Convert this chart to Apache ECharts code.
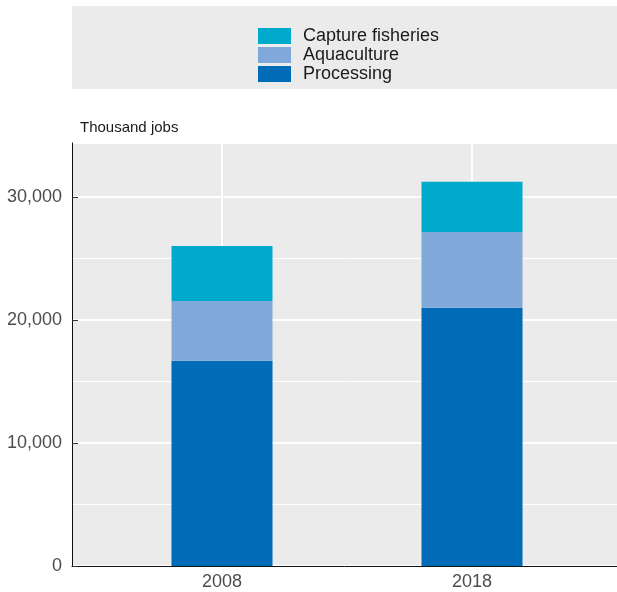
<!DOCTYPE html>
<html>
<head>
<meta charset="utf-8">
<script src="https://cdn.jsdelivr.net/npm/echarts@6/dist/echarts.min.js"></script>
<style>
  html, body { margin: 0; padding: 0; background: #fff; }
  #chart { width: 617px; height: 592px; }
</style>
</head>
<body>
<div id="chart"></div>
<script>
// 数据
const years = ['2008', '2018'];
const processing = [16700, 21000];
const aquaculture = [4850, 6170];
const capture = [4480, 4080];
const yMax = 34400;

const font = '"Liberation Sans", Arial, sans-serif';
const chart = echarts.init(document.getElementById('chart'));

const barBase = {
    type: 'bar',
    stack: 'jobs',
    xAxisIndex: 1,
    yAxisIndex: 1,
    barWidth: 101,
    clip: false
};

const option = {
    animation: false,
    textStyle: { fontFamily: font },
    // 图例背景框
    graphic: [{
        type: 'rect',
        left: 72, top: 6,
        shape: { width: 545, height: 83 },
        style: { fill: '#ebebeb' },
        z: -1
    }],
    legend: {
        orient: 'vertical',
        left: 258, top: 27,
        padding: 0,
        itemWidth: 33, itemHeight: 16, itemGap: 1,
        icon: 'rect',
        data: ['Capture fisheries', 'Aquaculture', 'Processing'],
        textStyle: { fontSize: 18, color: '#1a1a1a', lineHeight: 16, padding: [0, 0, 0, 7] }
    },
    grid: [
        // 整个绘图区（背景、横向网格线）
        { left: 72, right: 0, top: 143, bottom: 26, show: true, backgroundColor: '#ebebeb', borderWidth: 0 },
        // 柱子所在区域（两根竖线之间）
        { left: 222, right: 145, top: 143, bottom: 26 }
    ],
    xAxis: [
        {
            gridIndex: 0, type: 'value', min: 0, max: 1,
            axisLine: { show: true, onZero: false, lineStyle: { color: '#111', width: 1 } },
            axisTick: { show: false }, axisLabel: { show: false }, splitLine: { show: false }
        },
        {
            gridIndex: 1, type: 'category', data: years, boundaryGap: false,
            axisLine: { show: false },
            axisTick: { show: true, inside: true, length: 6, lineStyle: { color: '#444' } },
            axisLabel: { fontSize: 18, color: '#4d4d4d', margin: 7 },
            splitLine: { show: true, lineStyle: { color: '#fff', width: 2 } }
        }
    ],
    yAxis: [
        {
            gridIndex: 0, type: 'value', min: 0, max: yMax, interval: 10000,
            name: 'Thousand jobs', nameLocation: 'end', nameGap: 8,
            nameTextStyle: { fontSize: 15, color: '#1a1a1a', align: 'left', padding: [0, 0, 0, 8] },
            axisLine: { show: true, lineStyle: { color: '#111', width: 1 } },
            axisTick: { show: true, inside: true, length: 6, lineStyle: { color: '#333' } },
            axisLabel: {
                fontSize: 18, color: '#4d4d4d', margin: 10, showMaxLabel: false,
                formatter: v => v.toLocaleString('en-US')
            },
            splitLine: { show: true, lineStyle: { color: '#fff', width: 2 } },
            minorTick: { show: false, splitNumber: 2 },
            minorSplitLine: { show: true, lineStyle: { color: '#fff', width: 1 } }
        },
        {
            gridIndex: 1, type: 'value', min: 0, max: yMax, show: false
        }
    ],
    series: [
        Object.assign({ name: 'Processing', data: processing, itemStyle: { color: '#006bb6' } }, barBase),
        Object.assign({ name: 'Aquaculture', data: aquaculture, itemStyle: { color: '#80a8d8' } }, barBase),
        Object.assign({ name: 'Capture fisheries', data: capture, itemStyle: { color: '#00aacd' } }, barBase)
    ]
};

chart.setOption(option);
</script>
</body>
</html>
